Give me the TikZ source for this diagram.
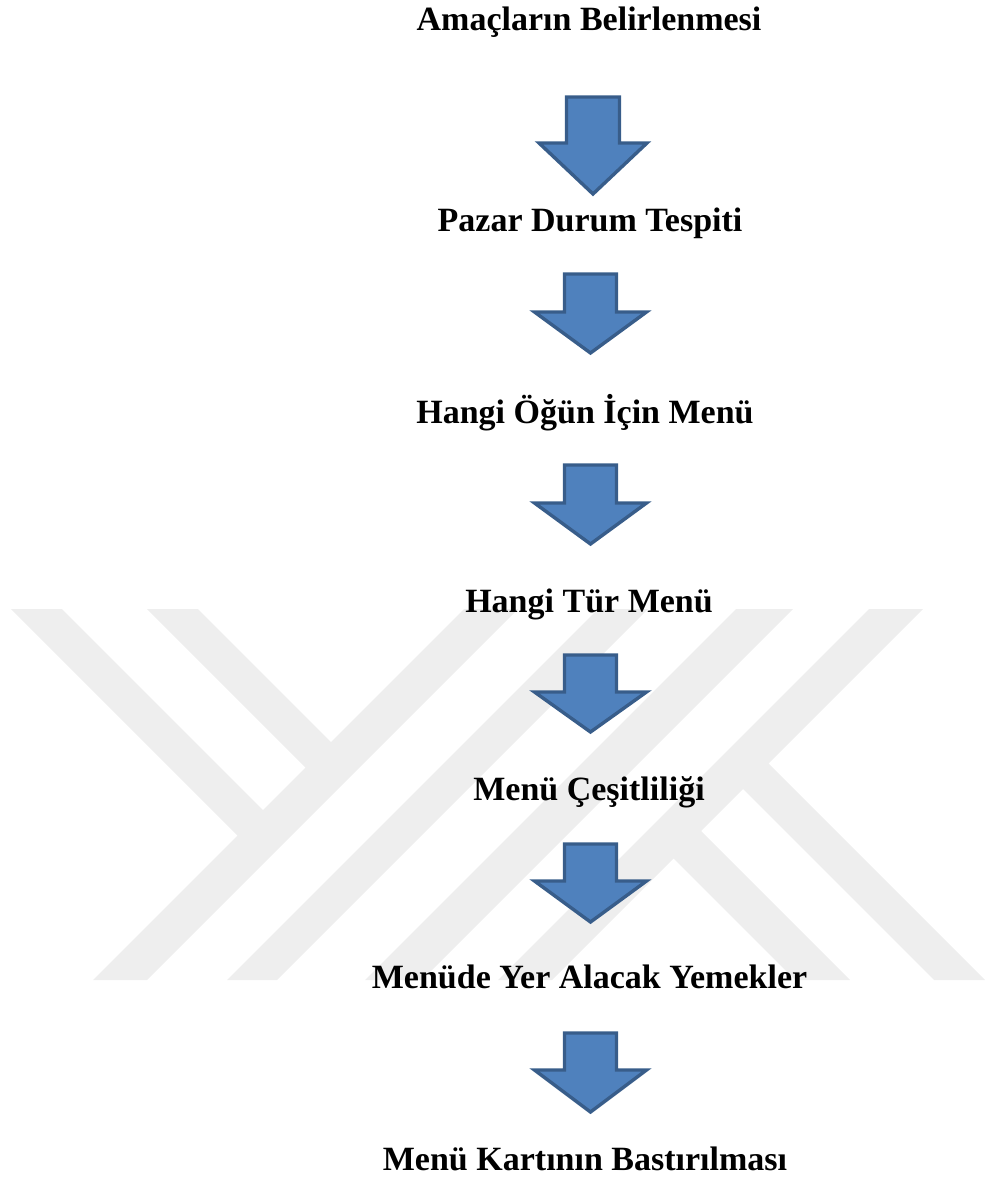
\documentclass[tikz,border=0pt]{standalone}
\usepackage{fontspec}
\setmainfont{Liberation Serif}
\definecolor{arrowfill}{HTML}{4F81BD}
\definecolor{arrowline}{HTML}{385D8A}
\definecolor{wmark}{HTML}{EEEEEE}
\tikzset{
  lab/.style={anchor=base, inner sep=0pt, font=\fontsize{17pt}{20pt}\selectfont\bfseries},
  blockarrow/.style={fill=arrowfill, draw=arrowline, line width=1.7pt, line join=miter},
  wm/.style={fill=wmark, draw=none}
}
\begin{document}
\begin{tikzpicture}[x=0.5pt,y=-0.5pt]
\useasboundingbox (0,0) rectangle (985,1187);
% watermark
\fill[wm] (93,980) -- (147,980) -- (518,609) -- (464,609) -- cycle;
\fill[wm] (227,980) -- (277,980) -- (648,609) -- (598,609) -- cycle;
\fill[wm] (365,980) -- (422,980) -- (793,609) -- (736,609) -- cycle;
\fill[wm] (498,980) -- (552,980) -- (923,609) -- (869,609) -- cycle;
\fill[wm] (11,609) -- (62,609) -- (276.5,823.5) -- (251,849) -- cycle;
\fill[wm] (147,609) -- (198,609) -- (344.5,755.5) -- (319,781) -- cycle;
\fill[wm] (660,845) -- (687.5,817.5) -- (850,980) -- (795,980) -- cycle;
\fill[wm] (729.5,775.5) -- (755,750) -- (985,980) -- (934,980) -- cycle;
% texts
\node[lab] (t1) at (589,31) {Amaçların Belirlenmesi};
\node[lab] (t2) at (590,232) {Pazar Durum Tespiti};
\node[lab] (t3) at (585,423) {Hangi Öğün İçin Menü};
\node[lab] (t4) at (589,612) {Hangi Tür Menü};
\node[lab] (t5) at (589,800) {Menü Çeşitliliği};
\node[lab] (t6) at (589.5,988) {Menüde Yer Alacak Yemekler};
\node[lab] (t7) at (585,1170) {Menü Kartının Bastırılması};
% block arrows
\draw[blockarrow] (566.5,97) -- (619.5,97) -- (619.5,143) -- (647,143) -- (593,194) -- (539,143) -- (566.5,143) -- cycle;
\foreach \t/\s/\p in {274/312/353, 465/503/544, 655/692/732, 844/881/922, 1033/1070/1112}{
  \draw[blockarrow] (564.5,\t) -- (616.5,\t) -- (616.5,\s) -- (646.5,\s) -- (590.5,\p) -- (534.5,\s) -- (564.5,\s) -- cycle;
}
\end{tikzpicture}
\end{document}
